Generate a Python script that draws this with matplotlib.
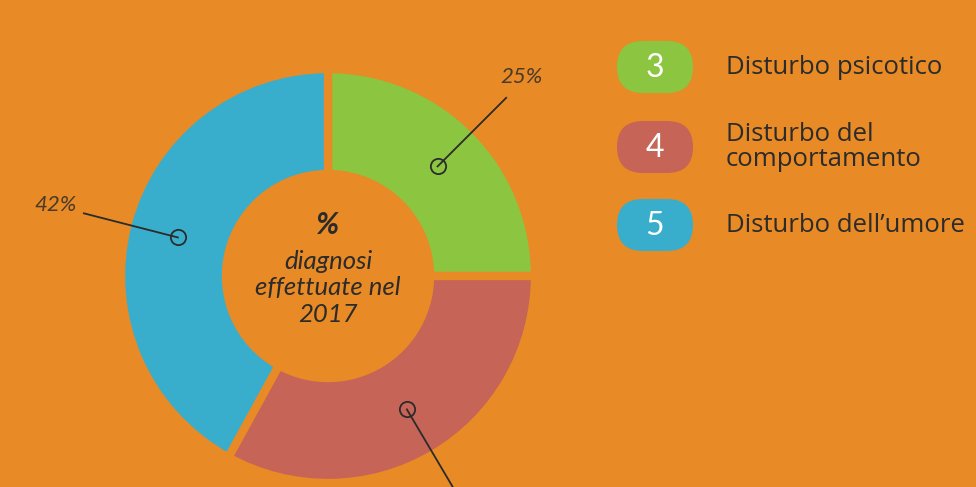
import numpy as np
import matplotlib.pyplot as plt
from matplotlib.patches import FancyBboxPatch

# data
labels = ['Disturbo psicotico', 'Disturbo del\ncomportamento', "Disturbo dell\u2019umore"]
counts = [3, 4, 5]
shares = [25, 33, 42]
pct_text = ['25%', '33%', '42%']
colors = ['#8CC540', '#C56457', '#38AECC']

bg = '#E88A25'
ink = '#2B2B2B'
W, H = 976, 487

fig = plt.figure(figsize=(9.76, 4.87), dpi=100, facecolor=bg)
ax = fig.add_axes([0, 0, 1, 1])
ax.set_facecolor(bg)

cx, cy = 328, H - 276
r_out, r_in = 207, 102
ax.pie(shares, colors=colors, startangle=90, counterclock=False,
       center=(cx, cy), radius=r_out,
       wedgeprops=dict(width=r_out - r_in, edgecolor=bg, linewidth=6))
ax.set_xlim(0, W)
ax.set_ylim(0, H)
ax.set_aspect('equal')
ax.axis('off')

# callouts at slice middles
start = 90.0
for s, t in zip(shares, pct_text):
    mid = np.deg2rad(start - s * 3.6 / 2)
    start -= s * 3.6
    ux, uy = np.cos(mid), np.sin(mid)
    ax.plot([cx + 155 * ux, cx + 252 * ux], [cy + 155 * uy, cy + 252 * uy],
            color=ink, lw=1.3, zorder=5)
    ax.plot(cx + 155 * ux, cy + 155 * uy, 'o', ms=11, mfc='none', mec=ink,
            mew=1.3, zorder=6)
    tx, ty = cx + 278 * ux, cy + 278 * uy
    if ty > 15:  # the bottom label falls outside the picture
        ax.text(tx - 3, ty + 2, t, fontsize=16, style='italic',
                family='Lato', color='#4a3a2a',
                ha='center', va='center')

# center text
ax.text(cx, H - 225, '%', fontsize=22, style='italic', fontweight='bold',
        family='Lato', color=ink, ha='center', va='center')
ax.text(cx, H - 288, 'diagnosi\neffettuate nel\n2017', fontsize=18.5,
        style='italic', family='Lato', color=ink, ha='center', va='center',
        linespacing=1.2)

# legend pills
pill_y = [67, 147, 225]
for n, lab, c, py in zip(counts, labels, colors, pill_y):
    ax.add_patch(FancyBboxPatch((617, H - py - 26), 76, 52,
                                boxstyle='round,pad=0,rounding_size=26',
                                fc=c, ec='none'))
    ax.text(655, H - py - 1, str(n), fontsize=23,
            family='Lato', color='white', ha='center', va='center')
    ax.text(726, H - py, lab, fontsize=18.5, family='Open Sans', color=ink,
            ha='left', va='center', linespacing=0.98)

fig.savefig('out.png', dpi=100, facecolor=bg)
